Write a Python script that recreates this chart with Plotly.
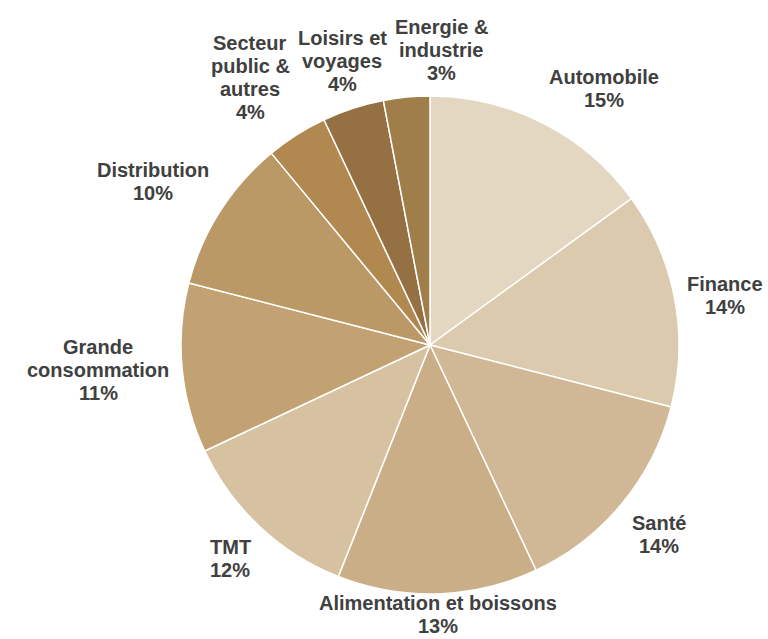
import math
import plotly.graph_objects as go

labels = ["Automobile", "Finance", "Santé", "Alimentation et boissons", "TMT",
          "Grande<br>consommation", "Distribution", "Secteur<br>public &<br>autres",
          "Loisirs et<br>voyages", "Energie &<br>industrie"]
values = [15, 14, 14, 13, 12, 11, 10, 4, 4, 3]
colors = ["#E4D7C2", "#DCCAAE", "#D0B795", "#CAAE87", "#D6C1A0",
          "#C2A172", "#BA9966", "#B08850", "#957042", "#A07E4A"]

W, H = 768, 639
cx, cy, R = 430, 345, 249  # pixel centre and radius of the pie
FS, LS = 20, 23            # label font size and line spacing
FONT = "Liberation Sans, Arial, sans-serif"

# Arial/Liberation Sans Bold advance widths (per 1000 em) for width estimates
CW = {" ": 278, "&": 722, "%": 889, "A": 722, "D": 722, "E": 667, "F": 611, "G": 778,
      "L": 611, "M": 833, "S": 667, "T": 611, "a": 556, "b": 611, "c": 556, "d": 611,
      "e": 556, "é": 556, "g": 611, "i": 278, "l": 278, "m": 889, "n": 611, "o": 611,
      "p": 611, "r": 389, "s": 556, "t": 333, "u": 611, "v": 556, "y": 556}


def text_w(t):
    return sum(CW.get(ch, 556) for ch in t) * FS / 1000


fig = go.Figure(go.Pie(
    labels=labels, values=values, sort=False, direction="clockwise", rotation=0,
    marker=dict(colors=colors, line=dict(color="white", width=1.5)),
    textinfo="none", hoverinfo="label+percent", showlegend=False,
    domain=dict(x=[(cx - R) / W, (cx + R) / W], y=[(H - cy - R) / H, (H - cy + R) / H]),
))

total = sum(values)
cum = 0
rl = R * 1.052
boxes = []
for lab, v in zip(labels, values):
    mid = (cum + v / 2) / total * 2 * math.pi
    cum += v
    s, c = math.sin(mid), math.cos(mid)
    px = cx + rl * s
    py = cy - rl * c
    lines = lab.split("<br>") + [f"{round(v / total * 100)}%"]
    w = max(text_w(t) for t in lines)
    h = len(lines) * LS
    if s > 0.3:
        left = px
    elif s < -0.3:
        left = px - w
    else:
        left = px - w / 2
    if c > 0.3:
        top = py - h
    elif c < -0.3:
        top = py
    else:
        top = py - h / 2
    top = min(max(top, 0), H - h - 2)
    boxes.append(dict(lines=lines, left=left, top=top, w=w, h=h))

# push the next (clockwise) label away when two neighbouring labels collide
for i in range(len(boxes) - 1):
    a, b = boxes[i], boxes[i + 1]
    ox = min(a["left"] + a["w"], b["left"] + b["w"]) - max(a["left"], b["left"])
    oy = min(a["top"] + a["h"], b["top"] + b["h"]) - max(a["top"], b["top"])
    if ox > 0 and oy > 0:
        if b["left"] >= a["left"]:
            b["left"] = a["left"] + a["w"] + 8
        else:
            b["left"] = a["left"] - b["w"] - 8

annotations = []
for bx in boxes:
    xc = bx["left"] + bx["w"] / 2
    for i, t in enumerate(bx["lines"]):
        yc = bx["top"] + LS * (i + 0.5)
        annotations.append(dict(
            x=xc / W, y=1 - yc / H, xref="paper", yref="paper",
            text=f"<b>{t}</b>", showarrow=False, xanchor="center", yanchor="middle",
            font=dict(family=FONT, size=FS, color="#404040"),
        ))

fig.update_layout(
    width=W, height=H, margin=dict(l=0, r=0, t=0, b=0),
    paper_bgcolor="white", plot_bgcolor="white",
    annotations=annotations,
)
fig.write_html("out.html", config={"displayModeBar": False},
               post_script="document.body.style.margin='0';")
